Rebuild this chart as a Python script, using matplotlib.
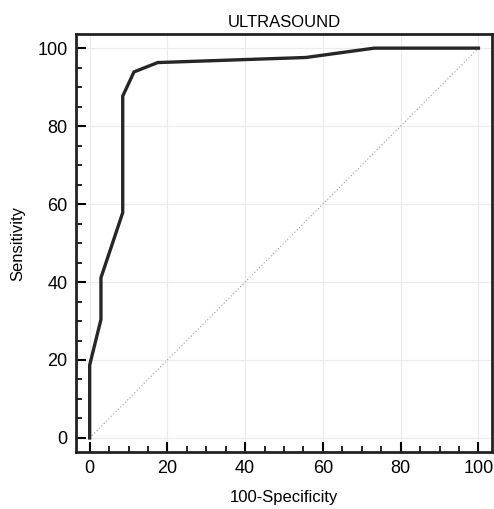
import matplotlib
matplotlib.use('Agg')
import matplotlib.pyplot as plt
from matplotlib.ticker import MultipleLocator

plt.rcParams['font.family'] = ['Liberation Sans', 'DejaVu Sans']

# ROC curve points
fpr = [0, 0, 2.9, 2.9, 8.5, 8.5, 11.4, 17.5, 55.6, 73.2, 100]
tpr = [0, 18.7, 30.4, 41.1, 57.8, 87.7, 93.9, 96.3, 97.6, 100, 100]
ref_line = [0, 100]

fig = plt.figure(figsize=(4.94, 5.09), dpi=100)
ax = fig.add_axes([0.154, 0.112, 0.842, 0.821])

ax.plot(ref_line, ref_line, color='#999999', linestyle=(0, (1, 2)), linewidth=0.8)
ax.plot(fpr, tpr, color='#262626', linewidth=2.4, solid_joinstyle='miter')

ax.set_xlim(-3.5, 103.5)
ax.set_ylim(-3.6, 103.6)
ax.xaxis.set_major_locator(MultipleLocator(20))
ax.yaxis.set_major_locator(MultipleLocator(20))
ax.xaxis.set_minor_locator(MultipleLocator(5))
ax.yaxis.set_minor_locator(MultipleLocator(5))
ax.tick_params(which='major', direction='in', length=7, width=1.5, labelsize=13, pad=6)
ax.tick_params(which='minor', direction='in', length=4, width=1.2)
ax.grid(which='major', color='#ebebeb', linewidth=0.8)

for s in ax.spines.values():
    s.set_linewidth(2)
    s.set_color('#222222')

ax.set_title('ULTRASOUND', fontsize=12, pad=5)
ax.set_xlabel('100-Specificity', fontsize=12, labelpad=9)
ax.set_ylabel('Sensitivity', fontsize=12, labelpad=9)

fig.savefig('out.png', dpi=100)
